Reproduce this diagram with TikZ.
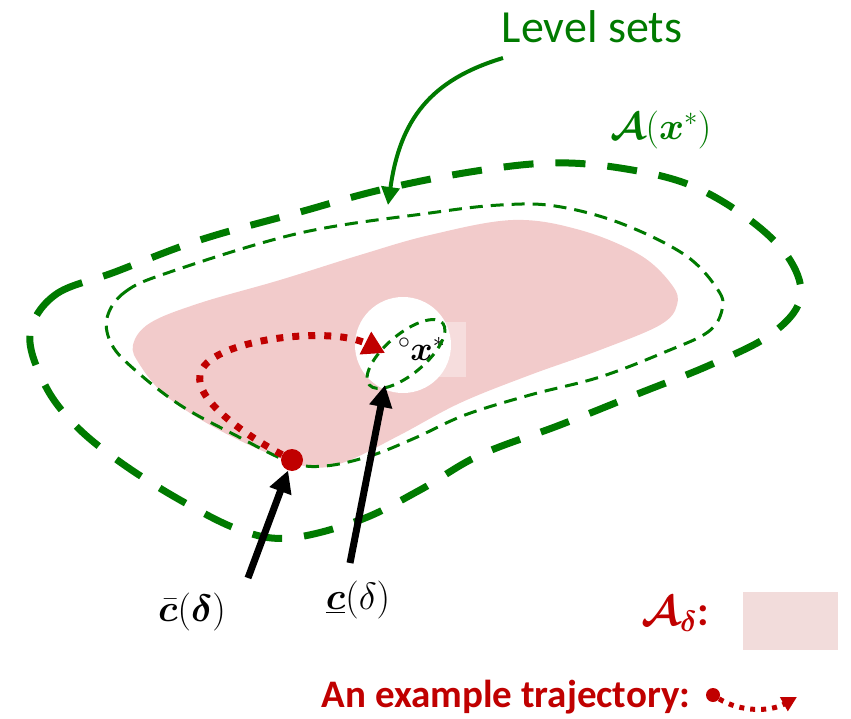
\RequirePackage{fix-cm}
\documentclass[tikz,border=0pt]{standalone}
\usepackage{fontspec}
\setmainfont{Carlito}
\usepackage{amsmath,bm}
\usetikzlibrary{arrows.meta,positioning}
\definecolor{LSGreen}{HTML}{007A00}
\definecolor{TrajRed}{HTML}{C00000}
\definecolor{RegionPink}{HTML}{F2CBCB}
\definecolor{LegendPink}{HTML}{F2DCDB}
\tikzset{
  outerSet/.style={draw=LSGreen, line width=7pt, dash pattern=on 30pt off 22pt},
  midSet/.style={draw=LSGreen, line width=3pt, dash pattern=on 13pt off 8pt},
  innerSet/.style={draw=LSGreen, line width=3pt, dash pattern=on 10pt off 7pt},
  trajectory/.style={draw=TrajRed, line width=7pt, dash pattern=on 7pt off 9pt, -{Triangle[length=22pt,width=24pt]}},
  smallTrajectory/.style={draw=TrajRed, line width=5pt, dash pattern=on 5pt off 6pt, -{Triangle[length=15pt,width=15pt]}},
  startDot/.style={circle, fill=TrajRed, inner sep=0pt, minimum size=22pt},
  pointer/.style={draw=black, line width=7pt, -{Triangle[length=22pt,width=22pt]}},
  greenPointer/.style={draw=LSGreen, line width=4pt, -{Triangle[length=18pt,width=18pt]}},
  mathLabel/.style={font=\fontsize{38pt}{42pt}\selectfont},
  legendBox/.style={fill=LegendPink, minimum width=95pt, minimum height=58pt, inner sep=0pt}
}
\begin{document}
\begin{tikzpicture}[x=1pt, y=-1pt]
  \useasboundingbox (0,0) rectangle (851,719);

  % Region A_delta
  \fill[RegionPink] plot[smooth cycle, tension=0.6] coordinates {
    (133,345) (150,323) (200,303) (280,280) (360,255) (430,235) (513,220)
    (580,230) (640,255) (672,285) (677,305) (660,325) (600,350) (530,375)
    (460,403) (400,435) (345,462) (310,467) (265,452) (210,425) (165,395) (140,365)};
  \fill[white] (403,345) circle (48);
  \node[fill=white, fill opacity=0.35, text opacity=1, text width=66pt, align=left,
        inner sep=2pt, minimum height=55pt, font=\fontsize{34pt}{36pt}\selectfont]
        (xstar) at (431,349) {${}^{\circ}\bm{x}^{*}$};

  % Level sets
  \draw[outerSet] plot[smooth cycle, tension=0.6] coordinates {
    (30,335) (55,295) (115,272) (200,240) (300,212) (380,190) (470,172)
    (550,163) (620,168) (690,185) (750,220) (790,260) (800,300) (770,335)
    (710,365) (640,393) (560,425) (480,455) (420,490) (360,520) (290,538)
    (240,530) (180,500) (120,462) (75,425) (45,385)};
  \draw[midSet] plot[smooth cycle, tension=0.6] coordinates {
    (107,318) (125,292) (170,272) (300,233) (430,213) (500,205) (555,206)
    (620,223) (685,255) (718,290) (722,310) (708,332) (665,352) (600,377)
    (530,395) (465,415) (415,438) (370,456) (325,466) (290,462) (235,435)
    (180,405) (135,370) (112,345)};
  \draw[innerSet, rotate around={40:(406,354)}] (406,354) ellipse (48 and 20);

  % Labels
  \node[text=LSGreen, font=\fontsize{46pt}{50pt}\selectfont] (levels) at (592,27) {Level sets};
  \node[text=LSGreen, mathLabel] (Ax) at (661,130) {$\bm{\mathcal{A}}(\bm{x}^{*})$};
  \node[mathLabel] (cbar) at (192,612) {$\bar{\bm{c}}(\bm{\delta})$};
  \node[mathLabel] (cunder) at (358,600) {$\underline{\bm{c}}(\delta)$};

  % Trajectory
  \node[startDot] (start) at (292,460) {};
  \coordinate (trajEnd) at (385,353);
  \draw[trajectory] (start) .. controls (245,435) and (195,400) .. (200,375)
    .. controls (205,340) and (330,325) .. (trajEnd);

  % Pointers
  \coordinate (levelsTail) at (503,58);
  \coordinate (levelsTip) at (388,205);
  \draw[greenPointer] (levelsTail) .. controls (430,80) and (400,120) .. (levelsTip);
  \coordinate (cbarTail) at (248,578);
  \draw[pointer] (cbarTail) -- (start);
  \coordinate (cunderTail) at (350,563);
  \coordinate (innerTouch) at (385,385);
  \draw[pointer] (cunderTail) -- (innerTouch);

  % Legend
  \node[text=TrajRed, font=\fontsize{42pt}{46pt}\selectfont] (legA) at (675,614) {$\bm{\mathcal{A}_{\delta}}$\textbf{:}};
  \node[legendBox] (legBox) at (790,621) {};
  \node[text=TrajRed, font=\fontsize{39pt}{42pt}\selectfont\bfseries] (legTraj) at (506,697) {An example trajectory:};
  \node[startDot, minimum size=14pt] (legDot) at (713,695) {};
  \coordinate (legEnd) at (797,697);
  \draw[smallTrajectory] (legDot) .. controls (740,712) and (770,712) .. (legEnd);
\end{tikzpicture}
\end{document}
